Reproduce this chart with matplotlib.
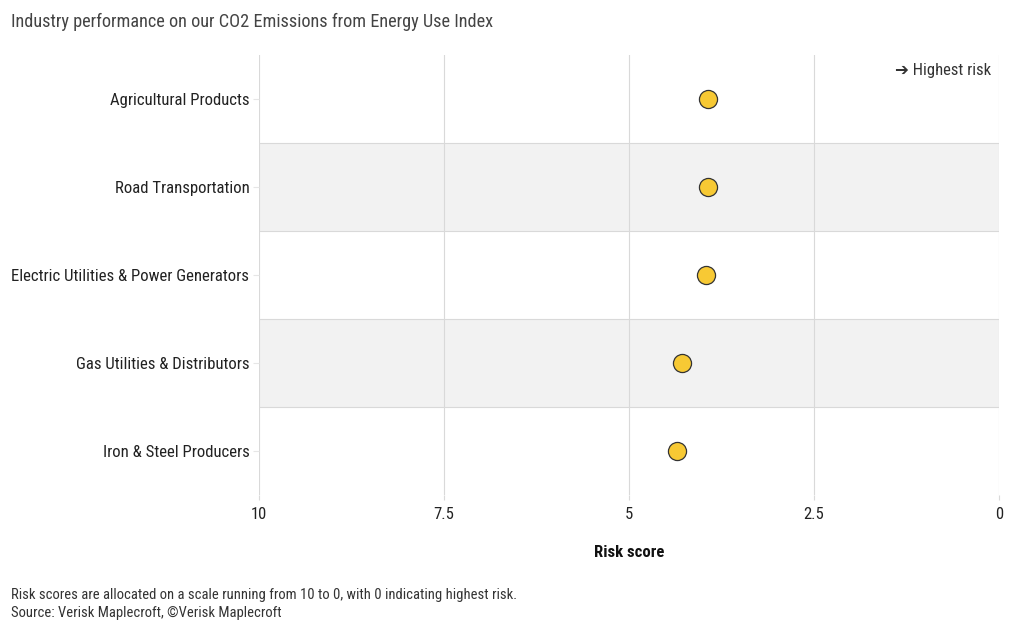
import matplotlib
matplotlib.use("Agg")
import matplotlib.pyplot as plt
from matplotlib import font_manager as fm

available = {f.name for f in fm.fontManager.ttflist}
fam = "Roboto"
for cand in ["Roboto Condensed", "Liberation Sans Narrow", "Roboto"]:
    if cand in available:
        fam = cand
        break
plt.rcParams['font.family'] = [fam, 'DejaVu Sans']

industries = ["Agricultural Products", "Road Transportation",
              "Electric Utilities & Power Generators",
              "Gas Utilities & Distributors", "Iron & Steel Producers"]
scores = [3.93, 3.93, 3.96, 4.28, 4.35]
xticks = [10, 7.5, 5, 2.5, 0]
xtick_labels = ["10", "7.5", "5", "2.5", "0"]

fig = plt.figure(figsize=(10.2, 6.33), dpi=100)
ax = fig.add_axes([259/1020, 1-495/633, 740/1020, 440/633])

n = len(industries)
ys = list(range(n))
ax.set_ylim(n - 0.5, -0.5)
ax.set_xlim(10, 0)

for i in ys:
    if i % 2 == 1:
        ax.axhspan(i - 0.5, i + 0.5, color="#f2f2f2", zorder=0, lw=0)
for i in range(1, n):
    ax.axhline(i - 0.5, color="#d9d9d9", lw=0.8, zorder=1)
for xt in xticks:
    ax.axvline(xt, color="#d9d9d9", lw=0.8, zorder=1)

ax.scatter(scores, ys, s=170, color="#f7c934", edgecolor="#333333", linewidth=0.9, zorder=3)

ax.set_yticks(ys)
ax.set_yticklabels(industries, fontsize=12.1, color="#222222")
ax.set_xticks(xticks)
ax.set_xticklabels(xtick_labels, fontsize=12, color="#222222")
ax.tick_params(axis='y', length=4, color="#e6e6e6", pad=3)
ax.tick_params(axis='x', length=3.6, color="#d9d9d9", pad=4.7)
for s in ax.spines.values():
    s.set_visible(False)
ax.set_xlabel("Risk score", fontsize=12, fontweight="bold", labelpad=17, color="#111111")

ax.text(0.99, 0.965, "\u2794 Highest risk", transform=ax.transAxes, ha="right", va="center",
        fontsize=12, color="#333333", family=[fam, 'DejaVu Sans'])

fig.text(11/1020, 1-22/633, "Industry performance on our CO2 Emissions from Energy Use Index",
         fontsize=13.12, color="#444444", va="center", ha="left")
fig.text(11/1020, 1-595/633, "Risk scores are allocated on a scale running from 10 to 0, with 0 indicating highest risk.",
         fontsize=10.5, color="#333333", va="center", ha="left")
fig.text(11/1020, 1-613/633, "Source: Verisk Maplecroft, \u00a9Verisk Maplecroft",
         fontsize=10.5, color="#333333", va="center", ha="left")

fig.savefig("out.png", dpi=100)
